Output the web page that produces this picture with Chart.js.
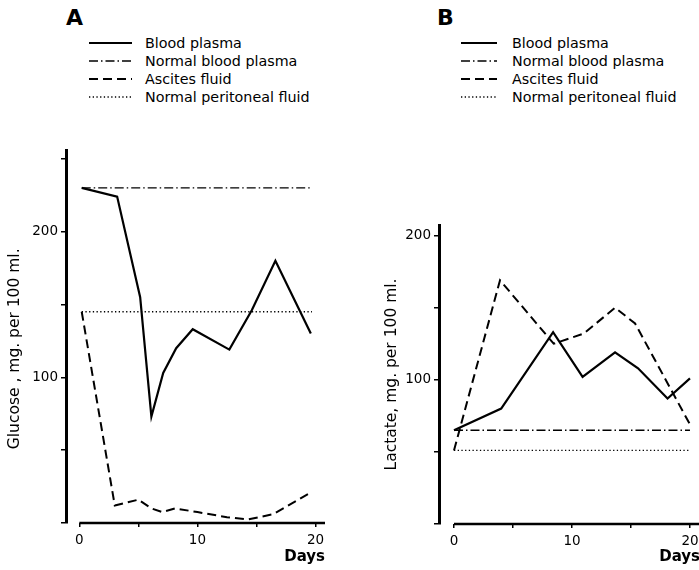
<!DOCTYPE html>
<html>
<head>
<meta charset="utf-8">
<script src="https://cdn.jsdelivr.net/npm/chart.js@4.4.1/dist/chart.umd.min.js"></script>
<style>
  body { margin: 0; width: 699px; height: 570px; overflow: hidden; background: #fff; position: relative; font-family: "DejaVu Sans", sans-serif; color: #000; }
  canvas { position: absolute; top: 0; }
  .letter { position: absolute; top: 7px; font: bold 22px/22px "DejaVu Sans", sans-serif; }
  .legend { position: absolute; top: 34px; font-size: 14.3px; }
  .legend div { height: 18px; display: flex; align-items: center; white-space: nowrap; }
  .legend svg { display: block; }
</style>
</head>
<body>
<div class="letter" style="left:66px">A</div>
<div class="letter" style="left:437px">B</div>
<div class="legend" id="legendA" style="left:89px"></div>
<div class="legend" id="legendB" style="left:461px"></div>
<canvas id="chartA" width="340" height="570" style="left:0"></canvas>
<canvas id="chartB" width="340" height="570" style="left:370px"></canvas>
<script>
// panel A: glucose
const glucoseBloodDays = [0.2, 3.2, 5.15, 6.1, 7.1, 8.2, 9.6, 12.7, 14.6, 16.6, 19.6];
const glucoseBlood = [230, 224, 155, 73, 103, 120, 133, 119, 146, 180, 130];
const glucoseNormalBloodDays = [0.2, 19.7];
const glucoseNormalBlood = [230, 230];
const glucoseAscitesDays = [0.2, 3.0, 5.0, 6.1, 7.0, 8.1, 10.0, 12.5, 14.3, 16.4, 19.6];
const glucoseAscites = [145, 12, 16, 10, 7.5, 10, 7.5, 4, 2.5, 6, 21];
const glucoseNormalPeritonealDays = [0.2, 19.7];
const glucoseNormalPeritoneal = [145, 145];

// panel B: lactate
const lactateBloodDays = [0, 4.0, 8.4, 10.9, 13.65, 15.6, 18.1, 20];
const lactateBlood = [65, 80, 133, 102, 119, 108, 87, 101];
const lactateNormalBloodDays = [0, 20];
const lactateNormalBlood = [65, 65];
const lactateAscitesDays = [0, 3.9, 8.45, 11.0, 13.65, 15.35, 20];
const lactateAscites = [51, 169, 125, 132, 150, 139, 69];
const lactateNormalPeritonealDays = [0, 20];
const lactateNormalPeritoneal = [51, 51];

const seriesNames = ['Blood plasma', 'Normal blood plasma', 'Ascites fluid', 'Normal peritoneal fluid'];
const dayTicks = [0, 5, 10, 15, 20];
const dayLabels = [0, 10, 20];
const glucoseTicks = [0, 50, 100, 150, 200, 250];
const lactateTicks = [0, 50, 100, 150, 200];
const valueLabels = [100, 200];

const ink = '#000';
const lineStyles = [
  { borderWidth: 2.2, borderDash: [] },
  { borderWidth: 1.3, borderDash: [9, 3, 1.5, 3] },
  { borderWidth: 2, borderDash: [9, 5] },
  { borderWidth: 1.3, borderDash: [1.3, 2.4] }
];

Chart.defaults.font.family = '"DejaVu Sans", sans-serif';
Chart.defaults.color = ink;

function pts(xs, ys) {
  return xs.map((x, i) => ({ x: x, y: ys[i] }));
}

// x axis line starts at day 0, not at the y axis
const axisLines = {
  id: 'axisLines',
  afterDraw(chart) {
    const { ctx, chartArea, scales } = chart;
    ctx.save();
    ctx.strokeStyle = ink;
    ctx.lineWidth = 2.5;
    ctx.beginPath();
    ctx.moveTo(scales.x.getPixelForValue(0), chartArea.bottom);
    ctx.lineTo(chartArea.right, chartArea.bottom);
    ctx.stroke();
    ctx.restore();
  }
};

function makeChart(id, series, o) {
  const ctx = document.getElementById(id).getContext('2d');
  return new Chart(ctx, {
    type: 'line',
    data: {
      datasets: series.map((s, i) => ({
        label: seriesNames[i],
        data: pts(s[0], s[1]),
        borderColor: ink,
        borderWidth: lineStyles[i].borderWidth,
        borderDash: lineStyles[i].borderDash,
        pointRadius: 0,
        tension: 0,
        fill: false
      }))
    },
    options: {
      responsive: false,
      animation: false,
      layout: { padding: { left: 0, top: o.top, right: o.right, bottom: 0 } },
      plugins: { legend: { display: false }, tooltip: { enabled: false } },
      scales: {
        x: {
          type: 'linear',
          min: o.xMin,
          max: o.xMax,
          afterBuildTicks: (scale) => { scale.ticks = dayTicks.map(v => ({ value: v })); },
          afterFit: (scale) => { scale.height = o.xHeight; },
          border: { display: false },
          grid: { drawOnChartArea: false, drawTicks: true, tickLength: 4, color: ink, lineWidth: 1.5 },
          ticks: {
            autoSkip: false, maxRotation: 0, padding: 5,
            font: { size: 13.5 },
            callback: (v) => dayLabels.includes(v) ? String(v) : ''
          },
          title: { display: true, text: 'Days', align: 'end', font: { size: 15, weight: 'bold' }, padding: { top: 0, bottom: 4 } }
        },
        y: {
          type: 'linear',
          min: 0,
          max: o.yMax,
          afterBuildTicks: (scale) => { scale.ticks = o.yTicks.map(v => ({ value: v })); },
          afterFit: (scale) => { scale.width = o.yWidth; },
          border: { display: true, color: ink, width: 3 },
          grid: { drawOnChartArea: false, drawTicks: true, tickLength: 5, color: ink, lineWidth: 1.5 },
          ticks: {
            autoSkip: false, padding: 3,
            font: { size: 13.5 },
            callback: (v) => valueLabels.includes(v) ? String(v) : ''
          },
          title: { display: true, text: o.yTitle, font: { size: 15.5 }, padding: { top: o.titlePad, bottom: 0 } }
        }
      }
    },
    plugins: [axisLines]
  });
}

makeChart('chartA', [
  [glucoseBloodDays, glucoseBlood],
  [glucoseNormalBloodDays, glucoseNormalBlood],
  [glucoseAscitesDays, glucoseAscites],
  [glucoseNormalPeritonealDays, glucoseNormalPeritoneal]
], { top: 150, right: 15, xMin: -1.13, xMax: 20.8, xHeight: 47, yMax: 256, yWidth: 66,
     yTicks: glucoseTicks, yTitle: 'Glucose , mg. per 100 ml.     ', titlePad: 6 });

makeChart('chartB', [
  [lactateBloodDays, lactateBlood],
  [lactateNormalBloodDays, lactateNormalBlood],
  [lactateAscitesDays, lactateAscites],
  [lactateNormalPeritonealDays, lactateNormalPeritoneal]
], { top: 225, right: 10, xMin: -1.27, xMax: 20.85, xHeight: 46, yMax: 207.3, yWidth: 69,
     yTicks: lactateTicks, yTitle: 'Lactate, mg. per 100 ml.', titlePad: 13 });

function buildLegend(id, sampleWidth, gap) {
  const el = document.getElementById(id);
  seriesNames.forEach((name, i) => {
    const s = lineStyles[i];
    const dash = s.borderDash.length ? s.borderDash.join(' ') : 'none';
    const row = document.createElement('div');
    row.innerHTML = '<svg width="' + sampleWidth + '" height="6" style="margin-right:' + gap + 'px">' +
      '<line x1="0" y1="3" x2="' + sampleWidth + '" y2="3" stroke="' + ink + '" stroke-width="' + s.borderWidth +
      '" stroke-dasharray="' + dash + '"/></svg><span>' + name + '</span>';
    el.appendChild(row);
  });
}
buildLegend('legendA', 43, 13);
buildLegend('legendB', 36, 15);
</script>
</body>
</html>
